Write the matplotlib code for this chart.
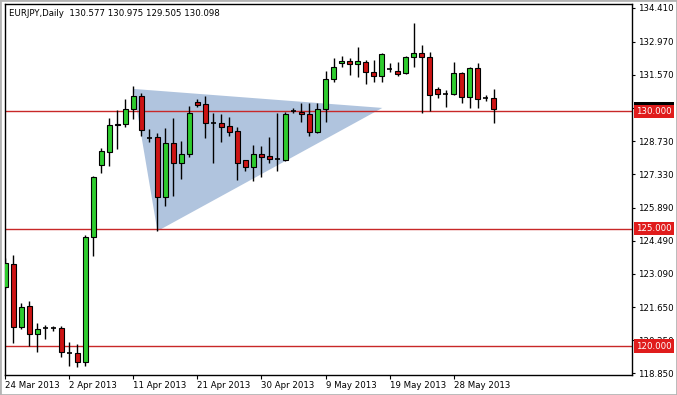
import matplotlib
matplotlib.use("Agg")
import matplotlib.pyplot as plt
from matplotlib.patches import Polygon, Rectangle
import matplotlib.transforms as mtransforms

# ---- data (EURJPY daily) ----
opens = [122.52, 123.50, 120.81, 121.71, 120.51, 120.77, 120.77, 120.77, 119.70, 119.70,
         119.32, 124.65, 127.72, 128.27, 129.47, 129.47, 130.10, 130.66, 128.89, 128.91,
         126.35, 128.65, 127.80, 128.19, 130.40, 130.32, 129.51, 129.51, 129.38, 129.17,
         127.93, 127.63, 128.19, 128.10, 127.97, 127.93, 130.02, 129.98, 129.89, 129.12,
         130.10, 131.38, 132.07, 132.15, 132.02, 132.11, 131.68, 131.51, 131.81, 131.72,
         131.64, 132.32, 132.49, 132.32, 130.96, 130.74, 130.74, 131.64, 130.61, 131.85,
         130.58, 130.577]
highs = [123.75, 123.88, 121.83, 121.92, 120.98, 120.90, 120.85, 120.85, 120.17, 120.09,
         124.73, 127.25, 128.44, 129.72, 130.06, 130.53, 131.09, 130.79, 129.25, 129.08,
         129.29, 129.72, 128.74, 130.23, 130.53, 130.66, 129.93, 129.89, 129.76, 129.34,
         127.93, 128.57, 128.53, 128.91, 129.93, 129.97, 130.15, 130.36, 130.36, 130.36,
         131.72, 132.28, 132.36, 132.28, 132.75, 132.19, 132.19, 132.49, 132.07, 132.11,
         132.36, 133.77, 132.83, 132.53, 131.04, 130.91, 132.11, 131.68, 131.89, 132.07,
         130.70, 130.975]
lows = [122.45, 120.13, 120.73, 120.00, 119.76, 120.30, 120.64, 119.53, 119.15, 119.11,
        119.15, 123.84, 127.38, 127.67, 128.40, 129.34, 129.68, 128.95, 128.70, 124.90,
        125.97, 126.39, 127.12, 128.06, 130.19, 128.87, 127.80, 128.70, 128.95, 127.08,
        127.46, 127.04, 127.21, 127.80, 127.46, 127.89, 129.93, 129.55, 128.95, 129.08,
        129.55, 131.25, 131.89, 131.55, 131.47, 131.17, 131.25, 131.25, 131.68, 131.51,
        131.60, 131.89, 129.93, 130.02, 130.57, 130.19, 130.70, 130.36, 130.15, 130.15,
        130.44, 129.505]
closes = [123.54, 120.81, 121.66, 120.51, 120.73, 120.75, 120.76, 119.76, 119.68, 119.32,
          124.65, 127.21, 128.31, 129.42, 129.44, 130.10, 130.66, 129.21, 128.87, 126.35,
          128.65, 127.80, 128.19, 129.93, 130.27, 129.51, 129.49, 129.34, 129.12, 127.80,
          127.63, 128.19, 128.06, 127.97, 127.96, 129.89, 130.04, 129.89, 129.12, 130.10,
          131.38, 131.89, 132.15, 132.02, 132.15, 131.68, 131.51, 132.45, 131.80, 131.59,
          132.32, 132.49, 132.32, 130.70, 130.74, 130.72, 131.64, 130.61, 131.85, 130.53,
          130.57, 130.098]

date_tick_bars = [0, 8, 16, 24, 32, 40, 48, 56]
date_tick_labels = ["24 Mar 2013", "2 Apr 2013", "11 Apr 2013", "21 Apr 2013",
                    "30 Apr 2013", "9 May 2013", "19 May 2013", "28 May 2013"]
price_ticks = [134.41, 132.97, 131.57, 130.15, 128.73, 127.33, 125.89, 124.49,
               123.09, 121.65, 120.25, 118.85]
level_lines = [130.0, 125.0, 120.0]
current_price = 130.098

triangle_x = [16.0, 47.1, 19.0]
triangle_y = [130.96, 130.15, 124.90]

header = "EURJPY,Daily  130.577 130.975 129.505 130.098"

# ---- figure ----
W, H = 677, 395
fig = plt.figure(figsize=(W / 100, H / 100), dpi=100)
fig.patch.set_facecolor("white")
ax = fig.add_axes([5 / W, 1 - 375 / H, (632 - 5) / W, (375 - 4) / H])
ax.set_facecolor("white")

FS = 6.2
FONT = "DejaVu Sans"

# triangle
tri = Polygon(list(zip(triangle_x, triangle_y)), closed=True,
              facecolor="#b0c4de", edgecolor="none", zorder=0.5)
ax.add_patch(tri)

# level lines
for lv in level_lines:
    ax.axhline(lv, color="#c82828", lw=1.0, zorder=1)

# candles
bw = 0.62
green = "#2ecc2e"
red = "#cc1414"
for i, (o, h, l, c) in enumerate(zip(opens, highs, lows, closes)):
    ax.vlines(i, l, h, color="black", lw=1.0, zorder=2)
    if abs(c - o) < 0.03:
        ax.hlines((o + c) / 2, i - bw / 2, i + bw / 2, color="black", lw=1.2, zorder=3)
    else:
        col = green if c > o else red
        ax.bar(i, abs(c - o), bottom=min(o, c), width=bw, color=col,
               edgecolor="black", linewidth=0.8, zorder=3)

ax.set_xlim(-0.05, 78.3)
ax.set_ylim(118.765, 134.58)

# axes styling
for s in ax.spines.values():
    s.set_color("black")
    s.set_linewidth(1.0)

ax.yaxis.tick_right()
ax.set_yticks(price_ticks)
ax.set_yticklabels([f"{p:.3f}" for p in price_ticks], fontsize=FS, family=FONT)
ax.tick_params(axis="y", direction="out", length=2.5, width=0.8, pad=1.5, colors="black")

ax.set_xticks(date_tick_bars)
ax.set_xticklabels(date_tick_labels, fontsize=FS, family=FONT, ha="left")
ax.tick_params(axis="x", direction="out", length=3, width=0.8, pad=1.5, colors="black")
for lab in ax.get_xticklabels():
    lab.set_horizontalalignment("left")

# price labels on the right axis
blend = mtransforms.blended_transform_factory(ax.transAxes, ax.transData)
ax.annotate(f"{current_price:.3f}", xy=(1, current_price), xycoords=blend,
            xytext=(3.2, 0), textcoords="offset points", ha="left", va="center",
            fontsize=FS, family=FONT, color="white", annotation_clip=False,
            bbox=dict(boxstyle="square,pad=0.25", facecolor="black", edgecolor="none"),
            zorder=5)
for lv in level_lines:
    ax.annotate(f"{lv:.3f}", xy=(1, lv), xycoords=blend,
                xytext=(3.2, 0), textcoords="offset points", ha="left", va="center",
                fontsize=FS, family=FONT, color="white", annotation_clip=False,
                bbox=dict(boxstyle="square,pad=0.25", facecolor="#e01c1c", edgecolor="none"),
                zorder=6)

# header text
fig.text(9 / W, 1 - 13 / H, header, fontsize=FS, family=FONT, ha="left", va="center",
         color="black")

# window frame
fig.patches.append(Rectangle((0, 0), 1, 1, transform=fig.transFigure, fill=False,
                             edgecolor="#b4b4b4", linewidth=2.0, zorder=10))

fig.savefig("out.png", dpi=100, facecolor="white")
